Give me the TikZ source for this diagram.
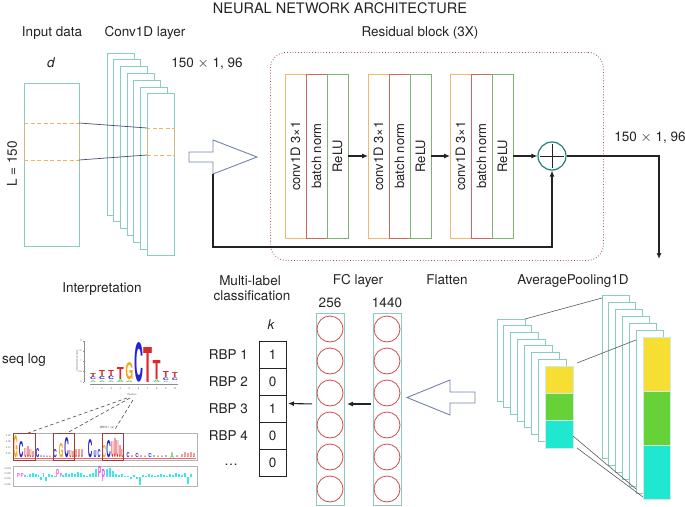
\documentclass[tikz,border=0pt]{standalone}
\usepackage{fontspec}
\setmainfont{TeX Gyre Heros}
\usetikzlibrary{arrows.meta,positioning}

\definecolor{txtgray}{RGB}{35,35,35}
\definecolor{sheetteal}{RGB}{135,205,196}
\definecolor{winorange}{RGB}{240,180,100}
\definecolor{convorange}{RGB}{240,185,110}
\definecolor{bnred}{RGB}{205,105,95}
\definecolor{relugreen}{RGB}{125,180,115}
\definecolor{plusteal}{RGB}{30,130,120}
\definecolor{hollowblue}{RGB}{115,130,175}
\definecolor{resred}{RGB}{165,70,95}
\definecolor{linkslate}{RGB}{70,80,110}
\definecolor{neuronred}{RGB}{210,75,75}
\definecolor{poolyellow}{RGB}{246,222,50}
\definecolor{poolgreen}{RGB}{102,210,55}
\definecolor{poolcyan}{RGB}{32,232,208}
\definecolor{logored}{RGB}{220,40,40}
\definecolor{logoblue}{RGB}{35,35,215}
\definecolor{logoorange}{RGB}{245,165,25}
\definecolor{logogreen}{RGB}{105,200,85}
\definecolor{logocyan}{RGB}{60,230,235}
\definecolor{logomagenta}{RGB}{225,100,220}
\definecolor{hitred}{RGB}{160,60,60}

\newcommand{\logoletter}[6]{\node[inner sep=0pt,outer sep=0pt,anchor=south,text=#5] at (#1,#2) {\resizebox{#4pt}{#3pt}{\bfseries #6}};}

\tikzset{
  lbl/.style={font=\fontsize{13.5}{16}\selectfont, text=txtgray, inner sep=0pt, anchor=base},
  sheet/.style={draw=sheetteal, fill=white, line width=0.9pt, anchor=north west, inner sep=0pt, outer sep=0pt},
  window/.style={draw=winorange, dashed, dash pattern=on 4pt off 2.5pt, line width=0.9pt, anchor=north west, inner sep=0pt, outer sep=0pt},
  layerbox/.style={fill=white, line width=0.9pt, anchor=north west, minimum width=21pt, minimum height=164pt, inner sep=0pt, outer sep=0pt, font=\fontsize{13}{15}\selectfont, text=txtgray},
  arr/.style={-{Latex[length=6pt,width=5pt]}, line width=1.1pt, draw=txtgray},
  convlink/.style={draw=linkslate, line width=0.7pt},
  hollow/.style={draw=hollowblue, line width=0.9pt, fill=white},
  neuron/.style={circle, draw=neuronred, line width=0.8pt, minimum size=26pt, inner sep=0pt},
  cell/.style={draw=txtgray, line width=0.9pt, minimum width=27pt, minimum height=27pt, anchor=north west, inner sep=0pt, outer sep=0pt, font=\fontsize{13.5}{16}\selectfont, text=txtgray},
  poolbar/.style={anchor=north west, minimum width=28pt, inner sep=0pt, outer sep=0pt, draw=sheetteal!40, line width=0.4pt},
  poolline/.style={draw=black!65, line width=0.6pt},
  ticklbl/.style={font=\fontsize{2.5}{3}\selectfont, text=black!60, inner sep=0pt},
  logodash/.style={draw=black!70, dashed, dash pattern=on 3.5pt off 2.5pt, line width=0.6pt},
  hitbox/.style={draw=hitred, line width=0.8pt, anchor=north west, minimum height=27pt, inner sep=0pt, outer sep=0pt},
  logopanel/.style={draw=black!30, line width=0.6pt, anchor=north west, minimum width=184pt, inner sep=0pt, outer sep=0pt},
}

\begin{document}
\begin{tikzpicture}[x=1pt,y=-1pt]
\useasboundingbox (0,0) rectangle (685,506);

\node[lbl, font=\fontsize{14.5}{17}\selectfont] (title) at (340,13) {NEURAL NETWORK ARCHITECTURE};
\node[lbl] (inputlbl) at (52,36) {Input data};
\node[lbl] (convlbl) at (145,36) {Conv1D layer};
\node[lbl] (reslbl) at (420,36) {Residual block (3X)};
\node[lbl, font=\fontsize{13.5}{16}\selectfont\itshape] (dlbl) at (51,67) {d};
\node[lbl] (convdim) at (207,67) {150 $\times$ 1, 96};
\node[lbl, anchor=center, rotate=90] (lenlbl) at (12,164) {L = 150};

\node[sheet, minimum width=55pt, minimum height=163pt] (input) at (24,83) {};
\node[window, minimum width=55pt, minimum height=37pt] (inwin) at (24,123) {};
\foreach \i in {0,...,6}
  \node[sheet, minimum width=27pt, minimum height=162pt] (convsheet\i) at ({107+6.67*\i},{53+6.8*\i}) {};
\node[window, minimum width=27pt, minimum height=27pt] (convwin) at (147,128) {};
\draw[convlink] (inwin.north east) -- (convwin.north west);
\draw[convlink] (inwin.south east) -- (convwin.south west);

\draw[hollow] (189,152) -- (213,152) -- (213,140) -- (257,157) -- (213,174) -- (213,162) -- (189,162) -- cycle;
\coordinate (skipstart) at (213,174);

\node[draw=resred, dotted, line width=0.8pt, rounded corners=16pt, anchor=north west, minimum width=333pt, minimum height=208pt, inner sep=0pt] (resblock) at (270,52) {};
\foreach \b/\x in {1/285,2/368,3/450} {
  \node[layerbox, draw=convorange] (conv\b) at (\x,74) {\rotatebox{90}{conv1D 3×1}};
  \node[layerbox, draw=bnred] (bn\b) at ({\x+21},74) {\rotatebox{90}{batch norm}};
  \node[layerbox, draw=relugreen] (relu\b) at ({\x+42},74) {\rotatebox{90}{ReLU}};
}
\node[circle, draw=plusteal, line width=1.2pt, minimum size=28pt, inner sep=0pt] (plus) at (552,156) {};
\draw[line width=1pt, draw=txtgray] ([yshift=-2.5pt]plus.north) -- ([yshift=2.5pt]plus.south);
\draw[line width=1pt, draw=txtgray] ([xshift=2.5pt]plus.west) -- ([xshift=-2.5pt]plus.east);
\draw[arr] (relu1.east) -- (conv2.west);
\draw[arr] (relu2.east) -- (conv3.west);
\draw[arr] (relu3.east) -- (plus.west);
\coordinate (skipcorner) at (552,247);
\draw[arr] (skipstart) |- (skipcorner) -- (plus.south);
\coordinate (poolin) at (659,259);
\draw[arr] (plus.east) -| (poolin);
\node[lbl] (outdim) at (650,141) {150 $\times$ 1, 96};

\node[lbl] (interplbl) at (102,292) {Interpretation};
\node[lbl] (multilbl) at (250,285) {Multi-label};
\node[lbl] (classlbl) at (252,300) {classification};
\node[lbl] (fclbl) at (358,284) {FC layer};
\node[lbl] (flatlbl) at (447,284) {Flatten};
\node[lbl] (poollbl) at (573,284) {AveragePooling1D};
\node[lbl] (n256) at (330,307) {256};
\node[lbl] (n1440) at (387,307) {1440};
\node[lbl, font=\fontsize{13.5}{16}\selectfont\itshape] (klbl) at (271,329) {k};
\node[lbl] (seqlbl) at (24,363) {seq log};

\foreach \v [count=\i] in {1,0,1,0,0}
  \node[cell] (cell\i) at (259,{341+27*(\i-1)}) {\v};
\foreach \i in {1,...,4}
  \node[lbl, anchor=east] (rbp\i) at ([xshift=-11pt]cell\i.west) {RBP \i};
\node[lbl, anchor=center] (rbpdots) at (231,465) {…};

\node[sheet, minimum width=28pt, minimum height=192pt] (fc256) at (316,313) {};
\node[sheet, minimum width=28pt, minimum height=192pt] (fc1440) at (373,313) {};
\foreach \j in {0,...,5} {
  \node[neuron] (na\j) at (330,{329+32*\j}) {};
  \node[neuron] (nb\j) at (387,{329+32*\j}) {};
}
\draw[arr, shorten >=3pt, shorten <=2pt] ([yshift=5pt]fc1440.west) -- ([yshift=5pt]fc256.east);
\draw[arr, shorten >=2pt, shorten <=4pt] ([yshift=5pt]fc256.west) -- ([yshift=5pt]cell3.east);

\draw[hollow] (475,392) -- (450,392) -- (450,380) -- (407,397.5) -- (450,415) -- (450,403) -- (475,403) -- cycle;

\foreach \i in {0,...,6}
  \node[sheet, minimum width=28pt, minimum height=82pt] (pa\i) at ({497+6.9*\i},{319+6.7*\i}) {};
\node[poolbar, fill=poolyellow, minimum height=27pt] (payellow) at (545,366) {};
\node[poolbar, fill=poolgreen, minimum height=27pt] (pagreen) at (545,393) {};
\node[poolbar, fill=poolcyan, minimum height=28pt] (pacyan) at (545,420) {};
\foreach \i in {0,...,5}
  \node[sheet, minimum width=27pt, minimum height=163pt] (pb\i) at ({602+6.8*\i},{295+7*\i}) {};
\node[poolbar, minimum width=27pt, fill=poolyellow, minimum height=54pt] (pbyellow) at (643,337) {};
\node[poolbar, minimum width=27pt, fill=poolgreen, minimum height=54pt] (pbgreen) at (643,391) {};
\node[poolbar, minimum width=27pt, fill=poolcyan, minimum height=54pt] (pbcyan) at (643,445) {};
\draw[poolline] (pa0.north east) -- ([yshift=-3pt]pb0.north west);
\draw[poolline] ([xshift=4pt,yshift=3pt]payellow.north east) -- ([yshift=-10pt]pb5.north west);
\draw[poolline] ([yshift=-2pt]pacyan.east) -- ([yshift=4pt]pb5.south west);
\draw[poolline] ([xshift=4pt]pacyan.south east) -- ([yshift=2pt]pbcyan.south west);

\draw[black!45, line width=0.4pt] (84,341) -- (84,382);
\foreach \t/\y [count=\k] in {0/382,0.5/371.5,1/361,1.5/351,2/341} {
  \draw[black!45, line width=0.4pt] (84,\y) -- (82.5,\y);
  \node[ticklbl, anchor=east] (ytick\k) at (82,\y) {\t};
}
\draw[black!45, line width=0.4pt] (90,384) -- (178,384);
\foreach \k in {1,...,10}
  \node[ticklbl] (xtick\k) at ({93+9.1*(\k-1)},389) {\k};
\node[ticklbl] (poslbl) at (132,395) {Position};
\node[ticklbl, rotate=90] (iclbl) at (77,361) {Information content};

\logoletter{93}{382}{1.6}{6}{logogreen}{A}
\logoletter{93}{380}{2.6}{6}{logoblue}{C}
\logoletter{93}{377}{4}{6}{logored}{T}
\logoletter{102.1}{382}{1.6}{6}{logogreen}{A}
\logoletter{102.1}{380}{3}{6}{logoblue}{C}
\logoletter{102.1}{376.6}{6}{6}{logored}{T}
\logoletter{111.2}{382}{1.6}{6}{logogreen}{A}
\logoletter{111.2}{380}{3.5}{6}{logoblue}{C}
\logoletter{111.2}{376.1}{6}{6}{logored}{T}
\logoletter{120.3}{382}{2.6}{7}{logogreen}{A}
\logoletter{120.3}{379}{12}{7}{logored}{T}
\logoletter{129.4}{382}{1.6}{7}{logogreen}{A}
\logoletter{129.4}{380}{17}{8}{logoorange}{G}
\logoletter{138.5}{382}{39}{9}{logoblue}{C}
\logoletter{147.6}{382}{35}{9}{logored}{T}
\logoletter{156.7}{382}{2.6}{7}{logogreen}{A}
\logoletter{156.7}{379}{19}{8}{logored}{T}
\logoletter{165.8}{382}{1.1}{6}{logogreen}{A}
\logoletter{165.8}{380.5}{2.6}{6}{logoblue}{C}
\logoletter{165.8}{377.5}{6}{6}{logored}{T}
\logoletter{174.9}{380.5}{2.6}{6}{logoblue}{C}
\logoletter{174.9}{377.5}{5}{6}{logored}{T}

\node[logopanel, minimum height=27pt] (panela) at (13,433) {};
\draw[logored!70, line width=0.5pt] (14,458) -- (196,458);
\foreach \x/\h/\w/\c/\l in {15.5/22/4.5/logoorange/G, 21/16/4.5/logoblue/C, 25.5/9/2.2/logored/U, 28/11/2.2/logored/U, 30.5/8/2.2/logored/U, 33/6/2.2/logored/U, 37.5/9/3.5/logoblue/C, 41/2/2/logored/U, 44/1.5/2/logoblue/C, 47/1.5/2/logored/U, 50/1.5/2/logored/U, 55/8/3.5/logoblue/C, 61/14/4.5/logoorange/G, 66.5/20/4.5/logoblue/C, 70.5/7/2.2/logored/U, 73/6/2.2/logored/U, 76/8/2.2/logored/U, 79/8/2.2/logored/U, 82/8/2.2/logored/U, 90/18/4.5/logoblue/C, 95/7/3/logoblue/U, 99/8/3/logoblue/C, 104/12/4/logoorange/C, 108.5/17/4.5/logoblue/C, 112.5/16/2.2/logored/U, 115/19/2.2/logored/U, 117.5/17/2.2/logored/U, 120/12/2.2/logored/U, 122.5/8/2.2/logored/U, 128/5/3/logoblue/C, 132/2/2/logored/U, 137/4/3.5/logoblue/C, 141/2/2/logored/U, 145/1.5/2/logored/U, 150/4/3.5/logoblue/C, 154/2/2/logoblue/C, 158/1.5/2/logored/U, 162/1.5/2/logored/U, 166/2/2/logoblue/C, 172/6/3.5/logogreen/A, 177/2/2/logored/U, 182/3/2/logored/U, 185/5/2.2/logored/U, 188/4/2.2/logored/U, 191/5/2.2/logored/U, 194/4/2.2/logored/U}
  \logoletter{\x}{458}{\h}{\w}{\c}{\l}
\node[hitbox, minimum width=22pt] (box1) at (13,433) {};
\node[hitbox, minimum width=21pt] (box2) at (53,433) {};
\node[hitbox, minimum width=21pt] (box3) at (102,433) {};
\foreach \t/\y [count=\k] in {0.03/436,0.02/442,0.01/448,0.00/454} 
  \node[ticklbl, anchor=east] (patick\k) at (11,\y) {\t};

\node[logopanel, minimum height=20pt] (panelb) at (13,466) {};
\foreach \x/\h in {25/2,27.5/1.5,30/3,33/4,36/3,38.5/2,41/-3,43.5/4,46/-4,49/3,52/2,55/1,63/2,66/4,69/3,72/4,75/3,78/5,81/4,84/2,87/1.5,90/3,93/4,96/8,107/8,110/9,113/6,116/3,119/2,122/3,125/1.5,128/1,131/-2,134/2,137/-2,140/-8,143/2,146/1.5,149/3,152/2,155/1.5,158/2,161/3,164/2,167/1.5,170/3,173/2,176/4,179/3,182/2,185/4,188/-7,191/3}
  \fill[logocyan] ({\x-0.8},477) rectangle ({\x+0.8},{477-\h});
\logoletter{18.5}{477}{4}{3}{logomagenta}{P}
\logoletter{22}{477}{4}{3}{logomagenta}{P}
\logoletter{57.5}{477}{8}{3}{logomagenta}{P}
\logoletter{61}{477}{4}{2.5}{logomagenta}{P}
\logoletter{99.5}{477}{11}{3.5}{logomagenta}{P}
\logoletter{103.4}{481}{12}{3.5}{logomagenta}{P}
\foreach \t/\y [count=\k] in {0.004/469,0.002/474,0.000/479,-0.002/485}
  \node[ticklbl, anchor=east] (pbtick\k) at (11,\y) {\t};

\node[ticklbl, font=\fontsize{3}{4}\selectfont] (mbnl) at (107,428) {MBNL1 (a)};
\coordinate (logofoot) at (131,398);
\draw[logodash] ([xshift=-4pt]logofoot) -- ([xshift=-7pt]box1.north east);
\draw[logodash] ([xshift=-1pt]logofoot) -- ([xshift=-7pt]box2.north east);
\draw[logodash] ([xshift=2pt,yshift=-2pt]logofoot) -- ([xshift=2pt,yshift=3pt]box3.north);

\end{tikzpicture}
\end{document}
